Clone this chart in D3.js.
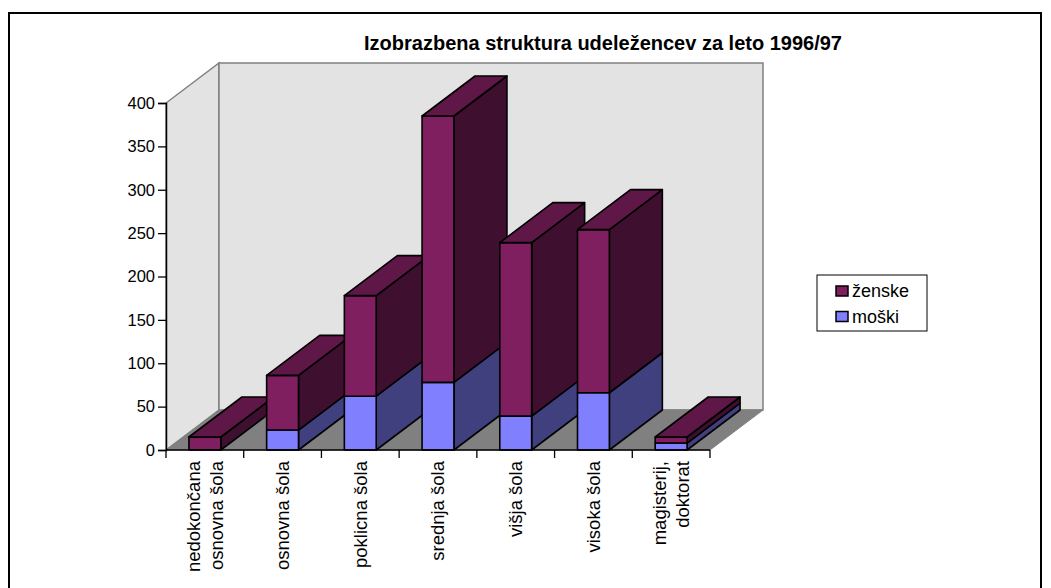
<!DOCTYPE html>
<html>
<head>
<meta charset="utf-8">
<script src="https://cdn.jsdelivr.net/npm/d3@7"></script>
<style>
  body { margin: 0; background: #fff; }
  svg { display: block; font-family: "Liberation Sans", Arial, sans-serif; }
</style>
</head>
<body>
<svg id="chart" width="1051" height="588"></svg>
<script>
// Data
const categories = [
  ['nedokončana', 'osnovna šola'],
  ['osnovna šola'],
  ['poklicna šola'],
  ['srednja šola'],
  ['višja šola'],
  ['visoka šola'],
  ['magisterij,', 'doktorat']
];
const moski  = [0, 23, 62, 78, 39, 66, 8];
const zenske = [15, 63, 116, 307, 200, 188, 7];
const yTicks = [0, 50, 100, 150, 200, 250, 300, 350, 400];
const seriesNames = ['ženske', 'moški'];

(function () {
  const svg = d3.select('#chart');

  // frame
  svg.append('path')
    .attr('d', 'M9,600 L9,13 L1041,13 L1041,600')
    .attr('fill', 'none').attr('stroke', '#000').attr('stroke-width', 2);

  const plotL = 166, plotR = 710, plotB = 450, plotT = 103;
  const dx = 53, dy = -40;   // depth offset of the 3D box

  const x = d3.scaleBand().domain(d3.range(categories.length)).range([plotL, plotR]);
  const y = d3.scaleLinear().domain([0, 400]).range([plotB, plotT]);
  const barW = x.bandwidth() * 0.41;

  const pts = a => a.map(p => p.join(',')).join(' ');

  // walls and floor
  const yMax = y(400);
  svg.append('polygon') // left wall
    .attr('points', pts([[plotL, plotB], [plotL, yMax], [plotL + dx, yMax + dy], [plotL + dx, plotB + dy]]))
    .attr('fill', '#e3e3e3').attr('stroke', '#808080').attr('stroke-width', 1.5);
  svg.append('polygon') // back wall
    .attr('points', pts([[plotL + dx, yMax + dy], [plotR + dx, yMax + dy], [plotR + dx, plotB + dy], [plotL + dx, plotB + dy]]))
    .attr('fill', '#e3e3e3').attr('stroke', '#808080').attr('stroke-width', 1.5);
  svg.append('polygon') // floor
    .attr('points', pts([[plotL, plotB], [plotR, plotB], [plotR + dx, plotB + dy], [plotL + dx, plotB + dy]]))
    .attr('fill', '#808080').attr('stroke', '#808080').attr('stroke-width', 1);

  // bars
  const colors = {
    m: { front: '#8080ff', side: '#40407f', top: '#6060bf' },
    z: { front: '#7f1f5f', side: '#3f0f2f', top: '#5f1747' }
  };

  const bars = svg.append('g').attr('stroke', '#000').attr('stroke-width', 1.6).attr('stroke-linejoin', 'round');

  categories.forEach((c, i) => {
    const x0 = x(i) + (x.bandwidth() - barW) / 2;
    const x1 = x0 + barW;
    const segs = [
      { v0: 0, v1: moski[i], col: colors.m },
      { v0: moski[i], v1: moski[i] + zenske[i], col: colors.z }
    ];
    const g = bars.append('g');
    segs.forEach(s => {
      if (s.v1 <= s.v0) return;
      const ya = y(s.v0), yb = y(s.v1);
      g.append('polygon')
        .attr('points', pts([[x1, ya], [x1, yb], [x1 + dx, yb + dy], [x1 + dx, ya + dy]]))
        .attr('fill', s.col.side);
      g.append('rect')
        .attr('x', x0).attr('y', yb).attr('width', barW).attr('height', ya - yb)
        .attr('fill', s.col.front);
    });
    const yt = y(moski[i] + zenske[i]);
    g.append('polygon')
      .attr('points', pts([[x0, yt], [x1, yt], [x1 + dx, yt + dy], [x0 + dx, yt + dy]]))
      .attr('fill', zenske[i] > 0 ? colors.z.top : colors.m.top);
  });

  // y axis
  const yAxis = svg.append('g')
    .attr('transform', `translate(${plotL},0)`)
    .call(d3.axisLeft(y).tickValues(yTicks).tickSize(8).tickPadding(3));
  yAxis.select('.domain').attr('stroke', '#000').attr('stroke-width', 1.5);
  yAxis.selectAll('.tick line').attr('stroke', '#000').attr('stroke-width', 1.3);
  yAxis.selectAll('text').attr('fill', '#000').attr('font-size', '16.5px')
    .attr('font-family', '"Liberation Sans", Arial, sans-serif');

  // x axis baseline and boundary ticks
  svg.append('line')
    .attr('x1', plotL).attr('x2', plotR).attr('y1', plotB).attr('y2', plotB)
    .attr('stroke', '#000').attr('stroke-width', 1.5);
  const bounds = d3.range(categories.length + 1).map(i => plotL + i * x.step());
  svg.append('g').selectAll('line').data(bounds).join('line')
    .attr('x1', d => d).attr('x2', d => d)
    .attr('y1', plotB).attr('y2', plotB + 8)
    .attr('stroke', '#000').attr('stroke-width', 1.3);

  // category labels (rotated)
  const lineGap = 22.5;
  categories.forEach((lines, i) => {
    const cx = x(i) + x.bandwidth() / 2;
    const g = svg.append('g').attr('transform', `translate(${cx},${plotB + 11}) rotate(-90)`);
    lines.forEach((t, j) => {
      const off = (j - (lines.length - 1) / 2) * lineGap;
      g.append('text')
        .attr('x', 0).attr('y', off).attr('dy', '0.35em')
        .attr('text-anchor', 'end').attr('font-size', '18.5px').attr('fill', '#000')
        .text(t);
    });
  });

  // title
  svg.append('text')
    .attr('x', 603).attr('y', 50).attr('text-anchor', 'middle')
    .attr('font-size', '20px').attr('font-weight', 'bold').attr('fill', '#000')
    .text('Izobrazbena struktura udeležencev za leto 1996/97');

  // legend
  const lg = svg.append('g').attr('transform', 'translate(817,275)');
  lg.append('rect').attr('width', 110).attr('height', 56)
    .attr('fill', '#fff').attr('stroke', '#000').attr('stroke-width', 1);
  const legendFill = [colors.z.front, colors.m.front];
  seriesNames.forEach((n, i) => {
    lg.append('rect').attr('x', 19).attr('y', 11 + i * 25.5).attr('width', 12).attr('height', 10)
      .attr('fill', legendFill[i]).attr('stroke', '#000').attr('stroke-width', 1.5);
    lg.append('text').attr('x', 35).attr('y', 22 + i * 25.5)
      .attr('font-size', '18px').attr('fill', '#000').text(n);
  });
})();
</script>
</body>
</html>
